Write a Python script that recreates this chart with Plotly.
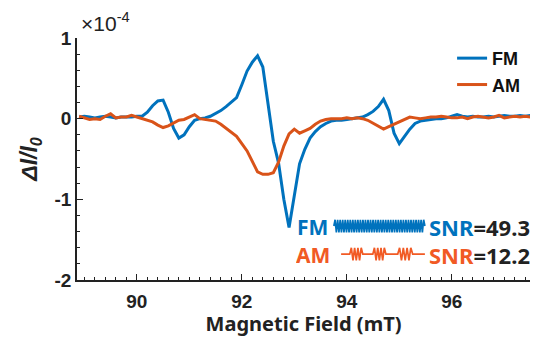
import plotly.graph_objects as go

# ---------------- data ----------------
field_mT = [round(88.9 + 0.1 * i, 1) for i in range(87)]  # 88.9 ... 97.5

fm_signal = [
    0.02, 0.03, 0.02, 0.01, 0.02, 0.03, 0.02, 0.01, 0.02, 0.02, 0.02,   # 88.9-89.9
    0.03, 0.03, 0.08, 0.16, 0.22, 0.23, 0.08, -0.12, -0.24, -0.20,      # 90.x
    -0.10, -0.02, 0.00, 0.01, 0.03, 0.06, 0.10, 0.15, 0.20, 0.26,       # 91.x
    0.42, 0.59, 0.70, 0.78, 0.64, 0.15, -0.28, -0.55, -1.00, -1.35,     # 92.x
    -0.95, -0.56, -0.38, -0.24, -0.16, -0.10, -0.06, -0.03, -0.02, -0.02,  # 93.x
    -0.01, 0.00, 0.01, 0.02, 0.05, 0.09, 0.15, 0.24, 0.10, -0.18,       # 94.x
    -0.31, -0.22, -0.13, -0.06, -0.03, -0.02, -0.01, 0.00, 0.00, 0.01,  # 95.x
    0.03, 0.05, 0.03, 0.02, 0.03, 0.02, 0.02, 0.03, 0.02, 0.03,         # 96.x
    0.04, 0.03, 0.03, 0.04, 0.03, 0.04,                                 # 97.0-97.5
]

am_signal = [
    0.03, 0.01, -0.01, 0.00, -0.01, 0.03, 0.06, 0.01, 0.02, 0.02, 0.04,  # 88.9-89.9
    0.02, 0.00, -0.02, -0.04, -0.08, -0.11, -0.09, -0.05, -0.02, -0.01,  # 90.x
    0.02, 0.05, 0.00, -0.01, -0.02, -0.03, -0.07, -0.12, -0.17, -0.22,   # 91.x
    -0.31, -0.40, -0.53, -0.66, -0.69, -0.69, -0.67, -0.54, -0.34, -0.19,  # 92.x
    -0.13, -0.18, -0.15, -0.12, -0.07, -0.03, -0.01, 0.00, 0.00, 0.00,   # 93.x
    0.01, 0.00, 0.01, 0.00, -0.02, -0.06, -0.10, -0.13, -0.10, -0.07,    # 94.x
    -0.05, -0.02, 0.02, 0.01, 0.00, 0.01, 0.02, 0.02, 0.03, 0.02,        # 95.x
    0.01, 0.01, 0.02, 0.00, 0.02, 0.03, 0.02, 0.01, 0.02, 0.04,          # 96.x
    0.01, 0.02, 0.03, 0.02, 0.03, 0.02,                                  # 97.0-97.5
]

series_names = ["FM", "AM"]
snr_values = ["49.3", "12.2"]
x_ticks = [90, 92, 94, 96]
y_ticks = [1, 0, -1, -2]

# ---------------- styling ----------------
BLUE = "#0072BD"
ORANGE = "#D95319"
ORANGE_TXT = "#F15A24"
INK = "#222222"
TICK_FONT = dict(family="Liberation Sans, Arial", size=19, color=INK, weight="bold")
LABEL_FONT = "Noto Sans, Open Sans, sans-serif"


# decorative noise glyphs drawn next to the SNR labels (icons, not data)
def zigzag(x0, x1, n_half, amp):
    xs = [x0 + (x1 - x0) * k / n_half for k in range(n_half + 1)]
    ys = [0.0] + [amp * (1 if k % 2 else -1) for k in range(1, n_half)] + [0.0]
    return xs, ys


fm_gx, fm_gy = zigzag(0.567, 0.768, 72, 1.0)
am_gx, am_gy = [0.583], [0.0]
for b0, b1 in [(0.602, 0.631), (0.653, 0.682), (0.708, 0.741)]:
    bx, by = zigzag(b0, b1, 8, 1.0)
    am_gx += bx
    am_gy += by
am_gx.append(0.768)
am_gy.append(0.0)

fig = go.Figure()
fig.add_trace(go.Scatter(x=field_mT, y=fm_signal, mode="lines", name=series_names[0],
                         line=dict(color=BLUE, width=3)))
fig.add_trace(go.Scatter(x=field_mT, y=am_signal, mode="lines", name=series_names[1],
                         line=dict(color=ORANGE, width=3)))

glyph_amp = 0.026
fig.add_trace(go.Scatter(x=fm_gx, y=[0.223 + glyph_amp * v for v in fm_gy],
                         mode="lines", line=dict(color=BLUE, width=1.7), xaxis="x2", yaxis="y2",
                         showlegend=False, hoverinfo="skip"))
fig.add_trace(go.Scatter(x=am_gx, y=[0.107 + glyph_amp * v for v in am_gy],
                         mode="lines", line=dict(color=ORANGE_TXT, width=1.7), xaxis="x2", yaxis="y2",
                         showlegend=False, hoverinfo="skip"))

axis_common = dict(showline=True, linecolor=INK, linewidth=1.5, ticks="inside",
                   ticklen=6, tickwidth=1.2, tickcolor=INK, showgrid=False,
                   zeroline=False, mirror=False, tickfont=TICK_FONT, automargin=False)

fig.update_layout(
    width=538, height=337,
    margin=dict(l=77, r=8, t=38, b=57),
    paper_bgcolor="white", plot_bgcolor="white",
    xaxis=dict(range=[88.86, 97.49], tickvals=x_ticks, ticktext=[str(v) for v in x_ticks],
               minor=dict(ticks="inside", ticklen=3, dtick=0.2, tick0=0, tickcolor=INK),
               ticklabelstandoff=3,
               title=dict(text="Magnetic Field (mT)", standoff=5,
                          font=dict(family=LABEL_FONT, size=20, color=INK, weight="bold")),
               **axis_common),
    yaxis=dict(range=[-2, 1], tickvals=y_ticks, ticktext=[str(v) for v in y_ticks],
               minor=dict(ticks="inside", ticklen=3, dtick=0.2, tick0=0, tickcolor=INK),
               title=dict(text="<i>ΔI/I<sub>0</sub></i>", standoff=10,
                          font=dict(family="Liberation Sans, Arial", size=23, color=INK, weight="bold")),
               **axis_common),
    xaxis2=dict(domain=[0, 1], range=[0, 1], overlaying="x", visible=False, fixedrange=True),
    yaxis2=dict(domain=[0, 1], range=[0, 1], overlaying="y", visible=False, fixedrange=True),
    legend=dict(x=0.828, y=0.992, xanchor="left", yanchor="top", bgcolor="rgba(0,0,0,0)",
                font=dict(family="Liberation Sans, Arial", size=18, color="#111111", weight="bold"),
                tracegroupgap=0),
    showlegend=True,
)

# exponent label
fig.add_annotation(xref="paper", yref="paper", x=0.0, y=1.0, xanchor="left", yanchor="bottom",
                   text="×10<sup>-4</sup>", showarrow=False, yshift=1, xshift=2,
                   font=dict(family="Liberation Sans, Arial", size=21, color=INK))

# SNR labels
rows = [(0.223, BLUE, 0.5585, series_names[0], snr_values[0]),
        (0.107, ORANGE_TXT, 0.563, series_names[1], snr_values[1])]
for y, col, xr, name, snr in rows:
    fig.add_annotation(xref="paper", yref="paper", x=xr, y=y, xanchor="right", yanchor="middle",
                       text=name, showarrow=False, height=25,
                       font=dict(family=LABEL_FONT, size=21, color=col, weight="bold"))
    fig.add_annotation(xref="paper", yref="paper", x=0.773, y=y, xanchor="left", yanchor="middle",
                       text=f"<span style='color:{col}'>SNR</span>={snr}", showarrow=False,
                       height=25,
                       font=dict(family=LABEL_FONT, size=22, color=INK, weight="bold"))

fig.write_html("out.html", config={"displayModeBar": False},
               post_script="document.body.style.margin='0';")
